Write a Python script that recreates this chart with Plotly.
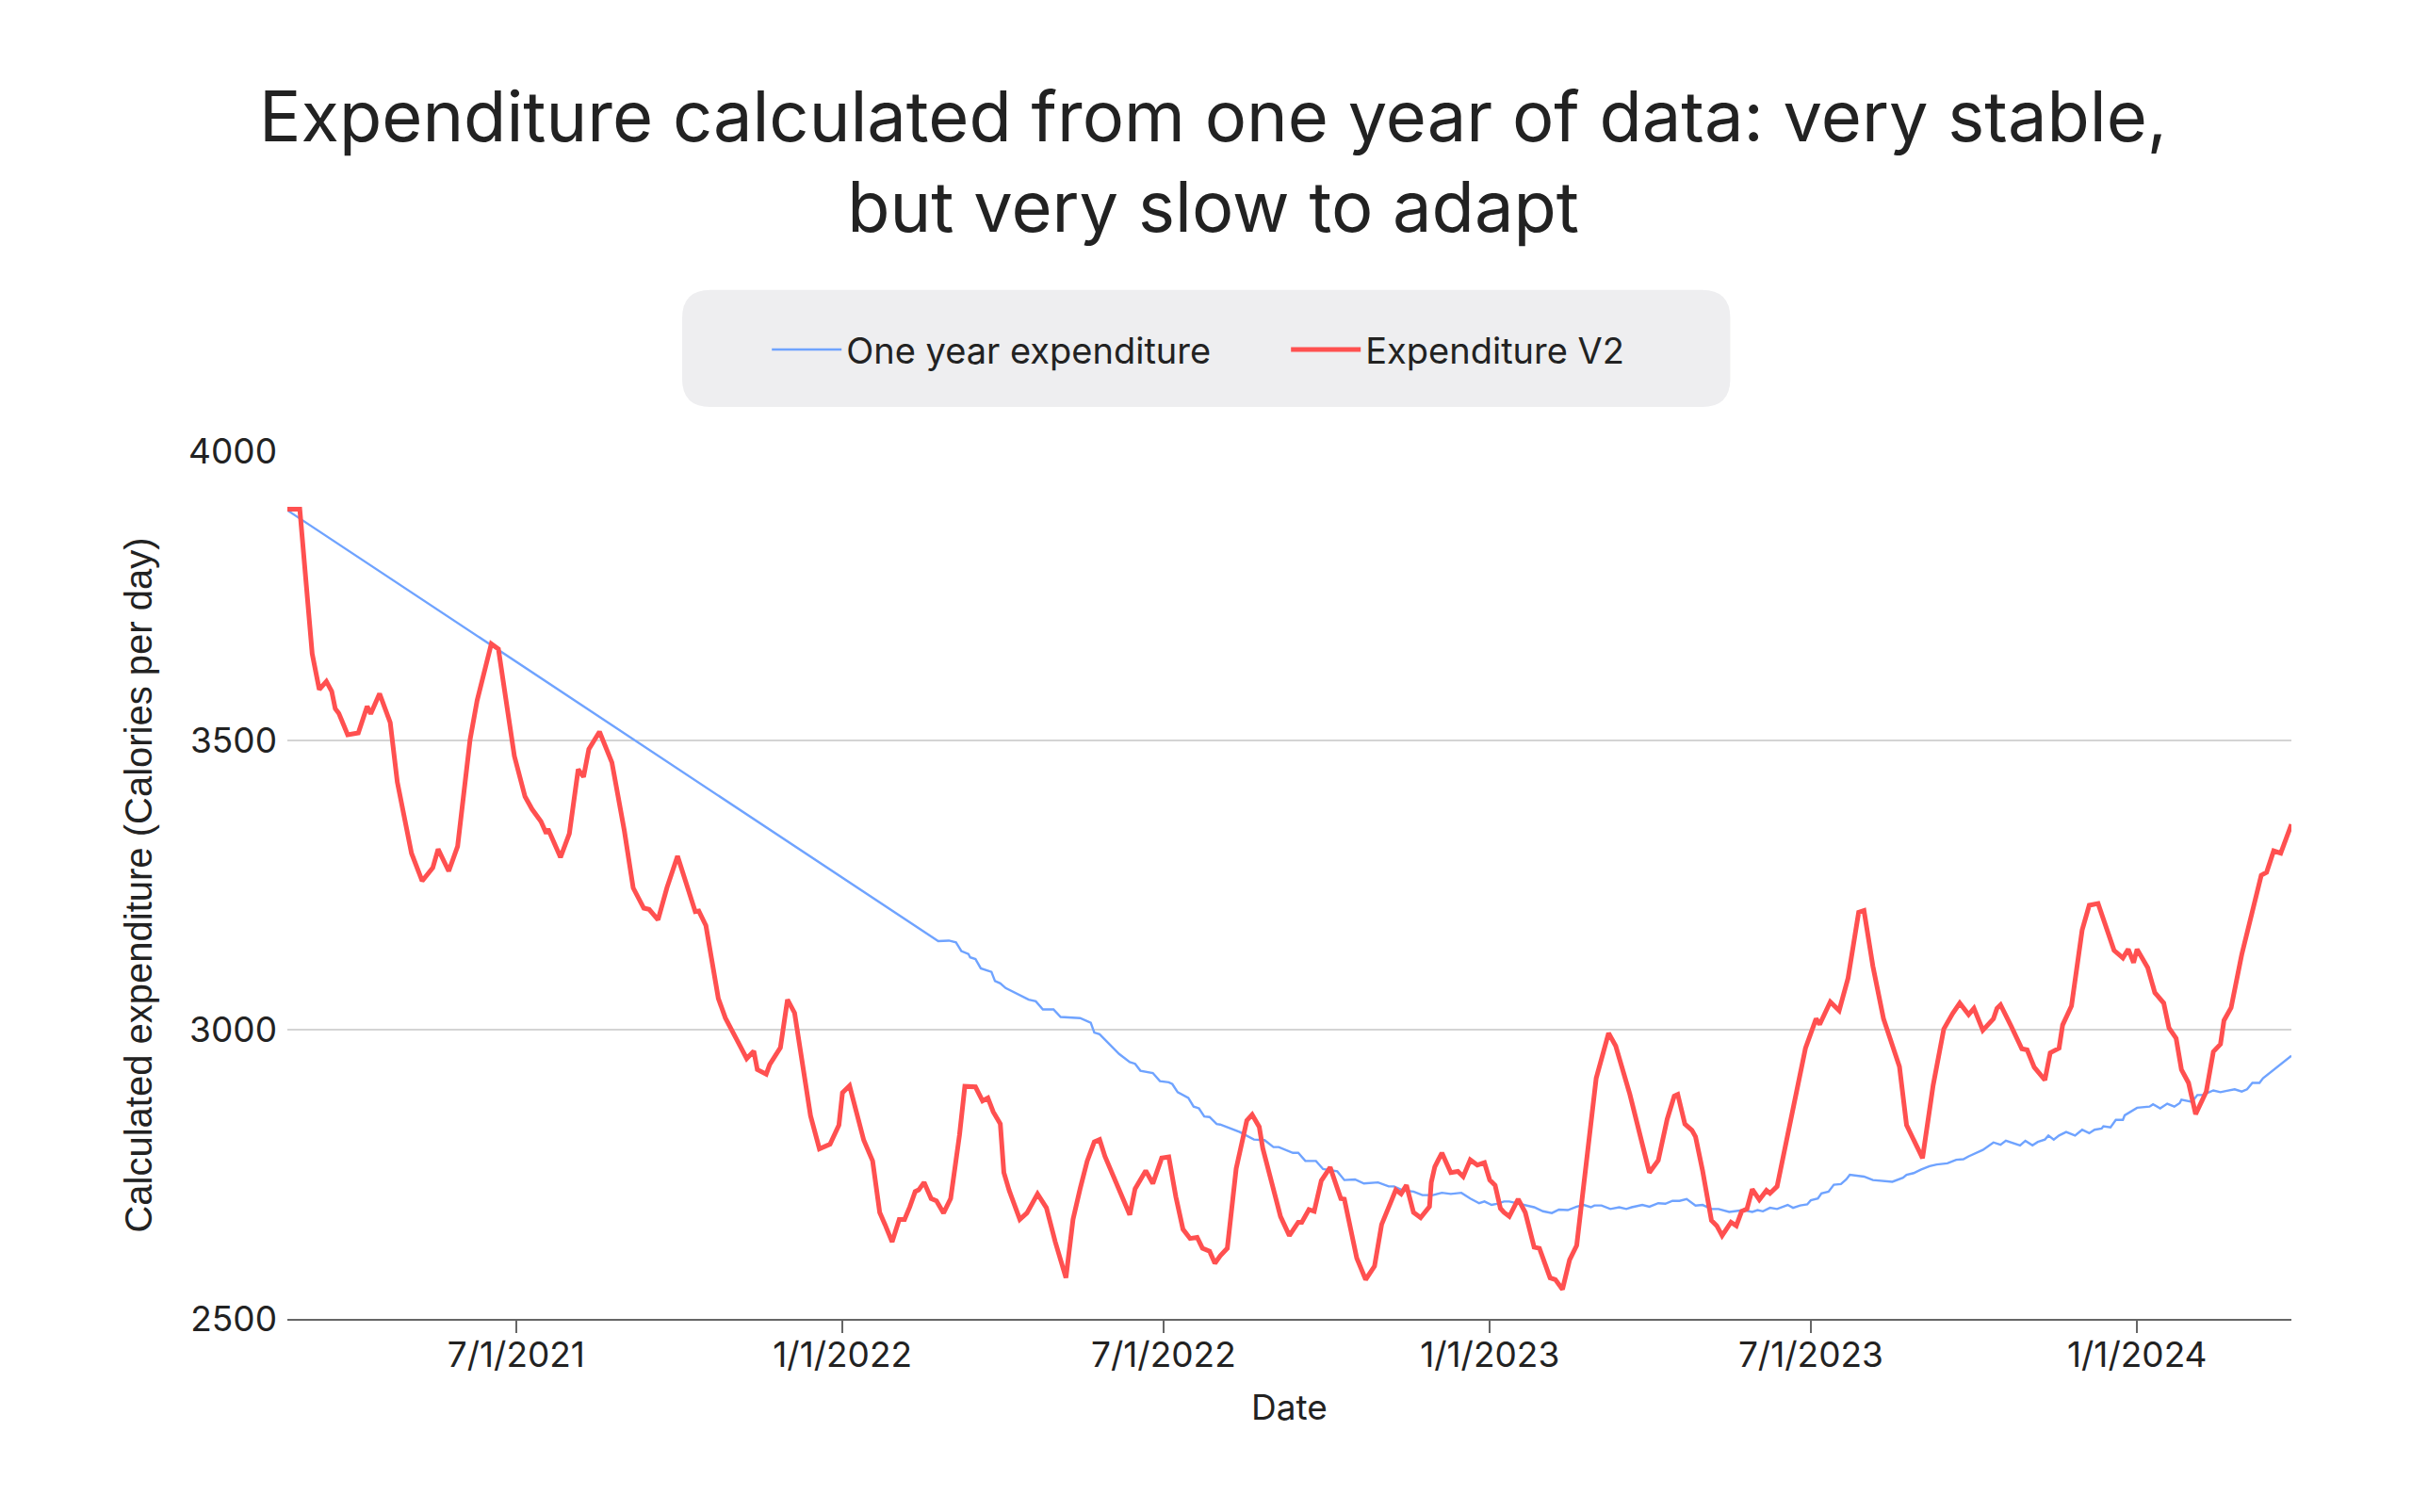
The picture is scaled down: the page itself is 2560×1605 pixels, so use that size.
import pandas as pd
import plotly.graph_objects as go

# day offsets are counted from the first date of the series
START = pd.Timestamp("2021-02-22")

one_year_days = [
    0, 367, 373, 377, 380, 384, 385, 388, 391, 397, 399, 402, 405, 418, 422, 426, 432, 436,
    447, 453, 455, 458, 469, 471, 475, 478, 481, 488, 492, 497, 499, 502, 505, 508, 511, 514,
    517, 520, 524, 526, 537, 545, 551, 556, 559, 563, 567, 570, 574, 580, 584, 592, 596, 602,
    607, 615, 621, 624, 629, 635, 640, 646, 651, 656, 660, 662, 667, 672, 675, 679, 682, 686,
    689, 693, 699, 703, 708, 713, 717, 722, 727, 731, 735, 737, 741, 746, 751, 755, 758, 763,
    764, 768, 773, 777, 781, 785, 789, 794, 798, 803, 807, 813, 817, 821, 826, 829, 832, 836,
    840, 846, 849, 853, 857, 859, 863, 865, 869, 872, 876, 879, 881, 889, 894, 905, 911, 913,
    917, 921, 926, 930, 936, 941, 945, 948, 956, 962, 966, 969, 977, 980, 984, 987, 991, 993,
    996, 999, 1003, 1008, 1012, 1016, 1019, 1023, 1024, 1028, 1031, 1035, 1036, 1043, 1050,
    1052, 1056, 1060, 1064, 1067, 1068, 1074, 1077, 1080, 1086, 1090, 1093, 1098, 1102, 1105,
    1108, 1112, 1114, 1130,
]
one_year_values = [
    3898, 3153, 3154, 3151, 3136, 3131, 3125, 3122, 3106, 3100, 3084, 3080, 3072, 3052, 3049,
    3035, 3035, 3022, 3020, 3012, 2995, 2992, 2958, 2953, 2944, 2941, 2929, 2925, 2911, 2909,
    2906, 2892, 2887, 2882, 2867, 2864, 2850, 2849, 2837, 2836, 2823, 2810, 2809, 2797, 2797,
    2792, 2787, 2787, 2773, 2773, 2759, 2755, 2740, 2741, 2734, 2736, 2729, 2729, 2722, 2720,
    2714, 2714, 2718, 2716, 2718, 2718, 2708, 2700, 2703, 2697, 2699, 2703, 2703, 2700, 2695,
    2693, 2686, 2683, 2689, 2688, 2694, 2697, 2693, 2696, 2696, 2690, 2693, 2690, 2693, 2696,
    2697, 2694, 2700, 2699, 2704, 2704, 2707, 2696, 2697, 2690, 2690, 2685, 2686, 2688, 2685,
    2688, 2686, 2692, 2690, 2697, 2692, 2696, 2698, 2705, 2708, 2717, 2720, 2732, 2733, 2741,
    2749, 2746, 2740, 2737, 2744, 2749, 2752, 2758, 2764, 2767, 2769, 2775, 2776, 2781, 2792,
    2805, 2801, 2808, 2800, 2808, 2800, 2806, 2810, 2817, 2810, 2817, 2823, 2817, 2827, 2821,
    2827, 2829, 2833, 2831, 2844, 2844, 2852, 2865, 2867, 2871, 2864, 2872, 2867, 2873, 2879,
    2875, 2887, 2887, 2895, 2892, 2894, 2897, 2893, 2897, 2908, 2908, 2916, 2955,
]

v2_days = [
    0, 7, 14, 18, 22, 25, 27, 29, 34, 40, 45, 47, 52, 58, 62, 70, 76, 82, 85, 91, 96, 98, 103,
    107, 115, 119, 123, 128, 134, 138, 143, 146, 147, 154, 159, 164, 167, 170, 176, 183, 190,
    195, 201, 204, 209, 214, 220, 230, 232, 236, 243, 247, 253, 259, 263, 265, 270, 272, 278,
    282, 286, 290, 295, 300, 306, 311, 313, 317, 321, 325, 330, 334, 337, 341, 345, 348, 351,
    354, 356, 359, 363, 366, 370, 374, 379, 382, 388, 392, 395, 398, 402, 404, 407, 413, 417,
    423, 428, 433, 439, 443, 447, 451, 455, 458, 461, 466, 471, 475, 478, 484, 488, 493, 497,
    501, 505, 509, 513, 516, 520, 523, 526, 530, 535, 541, 544, 548, 550, 556, 560, 565, 570,
    572, 576, 579, 583, 588, 594, 596, 600, 603, 608, 613, 617, 625, 628, 631, 635, 639, 644,
    645, 647, 651, 656, 660, 663, 667, 671, 675, 678, 681, 684, 686, 689, 694, 698, 703, 706,
    712, 715, 719, 723, 727, 738, 745, 749, 755, 757, 768, 773, 778, 782, 784, 788, 792, 794,
    798, 803, 806, 809, 814, 817, 820, 823, 826, 830, 834, 836, 840, 848, 856, 862, 864, 870,
    875, 880, 886, 889, 894, 900, 904, 909, 913, 922, 928, 934, 939, 943, 948, 951, 956, 962,
    964, 966, 972, 978, 981, 985, 991, 994, 999, 1001, 1006, 1012, 1016, 1021, 1030, 1035,
    1038, 1041, 1043, 1049, 1053, 1058, 1061, 1065, 1068, 1072, 1076, 1082, 1086, 1090, 1092,
    1096, 1102, 1107, 1113, 1116, 1120, 1124, 1130,
]
v2_values = [
    3900, 3900, 3650, 3588, 3602, 3585, 3555, 3547, 3510, 3513, 3559, 3546, 3581, 3531, 3428,
    3305, 3257, 3280, 3312, 3274, 3317, 3370, 3501, 3569, 3667, 3658, 3574, 3473, 3403, 3381,
    3360, 3339, 3347, 3298, 3339, 3450, 3437, 3485, 3515, 3462, 3344, 3245, 3210, 3208, 3190,
    3245, 3300, 3204, 3205, 3180, 3054, 3020, 2985, 2950, 2963, 2931, 2923, 2940, 2969, 3052,
    3029, 2944, 2851, 2794, 2802, 2835, 2891, 2903, 2857, 2809, 2773, 2684, 2663, 2633, 2672,
    2672, 2694, 2720, 2723, 2736, 2708, 2704, 2683, 2708, 2818, 2902, 2901, 2877, 2882, 2858,
    2837, 2753, 2722, 2672, 2683, 2716, 2692, 2633, 2571, 2672, 2725, 2773, 2806, 2810, 2781,
    2745, 2708, 2680, 2725, 2756, 2734, 2778, 2780, 2711, 2655, 2639, 2641, 2622, 2617, 2596,
    2609, 2622, 2760, 2843, 2853, 2832, 2795, 2720, 2677, 2644, 2667, 2667, 2689, 2686, 2739,
    2762, 2708, 2707, 2649, 2605, 2568, 2591, 2663, 2723, 2716, 2731, 2684, 2675, 2694, 2736,
    2763, 2787, 2753, 2755, 2746, 2775, 2766, 2770, 2740, 2731, 2691, 2684, 2677, 2707, 2684,
    2624, 2622, 2571, 2568, 2551, 2602, 2627, 2916, 2994, 2972, 2905, 2888, 2753, 2774, 2845,
    2885, 2888, 2837, 2826, 2815, 2756, 2670, 2661, 2644, 2667, 2661, 2686, 2690, 2724, 2706,
    2722, 2717, 2729, 2847, 2968, 3019, 3009, 3048, 3033, 3089, 3203, 3206, 3110, 3019, 2982,
    2936, 2835, 2778, 2904, 3001, 3028, 3046, 3026, 3037, 2999, 3019, 3037, 3043, 3006, 2967,
    2965, 2935, 2913, 2960, 2968, 3008, 3041, 3172, 3215, 3218, 3137, 3124, 3139, 3116, 3139,
    3107, 3064, 3046, 3003, 2985, 2931, 2908, 2854, 2893, 2962, 2975, 3016, 3038, 3130, 3191,
    3267, 3272, 3309, 3305, 3355,
]

x_start = "2021-02-22"
x_end = "2024-03-28"

one_year_dates = START + pd.to_timedelta(one_year_days, unit="D")
v2_dates = START + pd.to_timedelta(v2_days, unit="D")

FONT = "Inter"
TEXT = "#222222"

fig = go.Figure()

fig.add_trace(go.Scatter(
    x=one_year_dates, y=one_year_values, name="One year expenditure",
    mode="lines", line=dict(color="#6fa3ff", width=2.4)))

fig.add_trace(go.Scatter(
    x=v2_dates, y=v2_values, name="Expenditure V2",
    mode="lines", line=dict(color="#ff5050", width=5)))

# rounded grey box behind the legend (paper coords, plot area = 0..1)
bx0, bx1, by0, by1 = 0.197, 0.720, 1.051, 1.186
rx, ry = 0.0141, 0.0326
box_path = (
    f"M{bx0 + rx},{by0} L{bx1 - rx},{by0} Q{bx1},{by0} {bx1},{by0 + ry} "
    f"L{bx1},{by1 - ry} Q{bx1},{by1} {bx1 - rx},{by1} "
    f"L{bx0 + rx},{by1} Q{bx0},{by1} {bx0},{by1 - ry} "
    f"L{bx0},{by0 + ry} Q{bx0},{by0} {bx0 + rx},{by0} Z"
)
fig.add_shape(type="path", path=box_path, xref="paper", yref="paper",
              fillcolor="#eeeef0", line=dict(width=0), layer="below")

# the page body keeps an 8px margin, so the figure is a little smaller than the window
fig.update_layout(
    width=2544, height=1589, autosize=False,
    paper_bgcolor="white", plot_bgcolor="white",
    margin=dict(l=297, r=120, t=471, b=197, autoexpand=False),
    font=dict(family=FONT, color=TEXT, size=36),
    title=dict(
        text="Expenditure calculated from one year of data: very stable,<br>but very slow to adapt",
        x=0.503, xanchor="center", y=0.9106, yanchor="top",
        font=dict(family=FONT, size=74, color=TEXT)),
    legend=dict(
        orientation="h", x=0.2394, xanchor="left",
        y=1.117, yanchor="middle",
        bgcolor="rgba(0,0,0,0)", font=dict(family=FONT, size=38, color=TEXT),
        itemwidth=74, entrywidth=462, entrywidthmode="pixels"),
    showlegend=True,
)

fig.update_xaxes(
    type="date", range=[x_start, x_end],
    tick0="2021-01-01", dtick="M6", tickformat="%-m/%-d/%Y", tickangle=0,
    ticks="outside", ticklen=13, tickwidth=1.5, tickcolor="#666666",
    showline=True, linecolor="#666666", linewidth=2,
    showgrid=False, zeroline=False, ticklabelstandoff=-8,
    tickfont=dict(family=FONT, size=37, color=TEXT),
    title=dict(text="Date", font=dict(family=FONT, size=37, color=TEXT), standoff=22),
)

fig.update_yaxes(
    range=[2500, 4000], tickvals=[2500, 3000, 3500, 4000],
    showgrid=True, gridcolor="#d4d4d4", gridwidth=1.5,
    showline=False, zeroline=False, ticks="", ticklabelstandoff=10,
    tickfont=dict(family=FONT, size=37, color=TEXT),
    title=dict(text="Calculated expenditure (Calories per day)",
               font=dict(family="Liberation Sans", size=40, color=TEXT), standoff=26),
)

fig.write_html("out.html")
